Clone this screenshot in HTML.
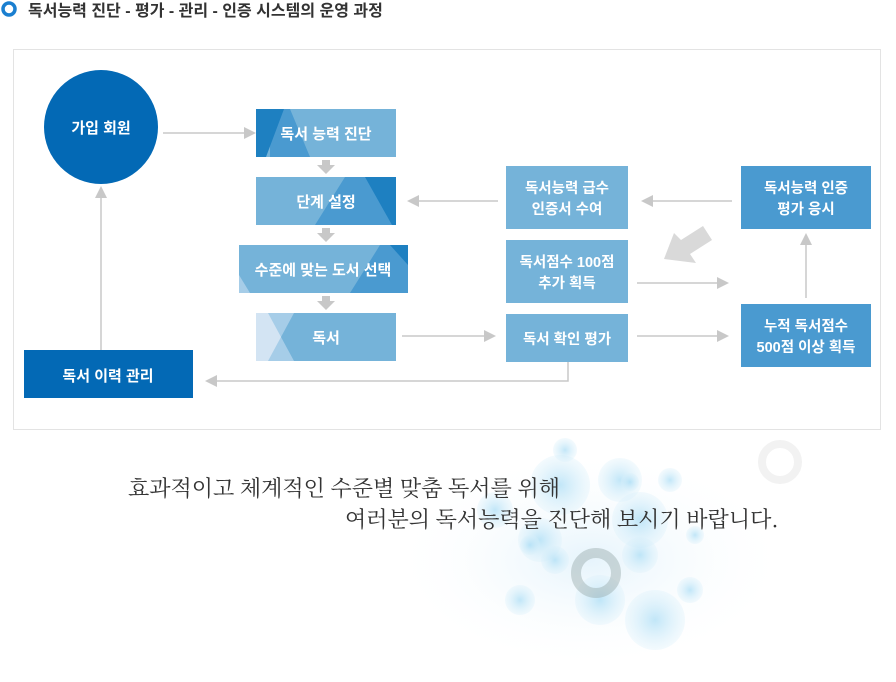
<!DOCTYPE html>
<html><head><meta charset="utf-8"><style>
html,body{margin:0;padding:0;background:#fff;}
body{width:896px;height:682px;overflow:hidden;position:relative;font-family:"Liberation Sans","Noto Sans CJK KR",sans-serif;}
svg{position:absolute;left:0;top:0;}
</style></head><body>
<svg width="896" height="682" viewBox="0 0 896 682" xmlns="http://www.w3.org/2000/svg" font-family="Liberation Sans, Noto Sans CJK KR, sans-serif">
<defs>
<radialGradient id="bub" cx="50%" cy="50%" r="50%"><stop offset="0" stop-color="#a8dcf5" stop-opacity="0.7"/><stop offset="1" stop-color="#d8effa" stop-opacity="0.3"/></radialGradient>
<radialGradient id="haze" cx="50%" cy="50%" r="50%"><stop offset="0" stop-color="#e6f4fc"/><stop offset="1" stop-color="#fff" stop-opacity="0"/></radialGradient>
<clipPath id="c1"><rect x="256" y="109" width="140" height="48"/></clipPath>
<clipPath id="c2"><rect x="256" y="177" width="140" height="48"/></clipPath>
<clipPath id="c3"><rect x="239" y="245" width="169" height="48"/></clipPath>
<clipPath id="c4"><rect x="256" y="313" width="140" height="48"/></clipPath>
</defs>
<circle cx="9" cy="9" r="6" fill="none" stroke="#1a7fd0" stroke-width="3.5"/>
<text x="28" y="16" font-size="16" fill="#333" font-weight="bold">독서능력 진단 - 평가 - 관리 - 인증 시스템의 운영 과정</text>
<rect x="13.5" y="49.5" width="867" height="380" fill="#fff" stroke="#e3e3e3"/>
<ellipse cx="590" cy="560" rx="200" ry="110" fill="url(#haze)"/>
<g fill="url(#bub)">
<circle cx="560" cy="485" r="30"/><circle cx="620" cy="480" r="22"/><circle cx="640" cy="520" r="28"/><circle cx="540" cy="540" r="22"/>
<circle cx="600" cy="600" r="25"/><circle cx="655" cy="620" r="30"/><circle cx="520" cy="600" r="15"/><circle cx="690" cy="590" r="13"/>
<circle cx="530" cy="545" r="10"/><circle cx="640" cy="555" r="18"/><circle cx="555" cy="560" r="14"/><circle cx="565" cy="450" r="12"/>
<circle cx="630" cy="482" r="9"/><circle cx="695" cy="535" r="9"/><circle cx="495" cy="510" r="18"/><circle cx="670" cy="480" r="12"/>
</g>
<circle cx="596" cy="573" r="20" fill="none" stroke="#9aa" stroke-opacity="0.45" stroke-width="10"/>
<circle cx="780" cy="462" r="18" fill="none" stroke="#f2f2f2" stroke-width="8"/>
<text x="128" y="496" font-size="22" fill="#333" font-family="Noto Serif CJK SC, serif">효과적이고 체계적인 수준별 맞춤 독서를 위해</text>
<text x="345" y="527" font-size="22" fill="#333" font-family="Noto Serif CJK SC, serif">여러분의 독서능력을 진단해 보시기 바랍니다.</text>
<g stroke="#c8c8c8" stroke-width="1.5" fill="none">
<line x1="163" y1="133" x2="245" y2="133"/>
<line x1="498" y1="201" x2="418" y2="201"/>
<line x1="732" y1="201" x2="652" y2="201"/>
<line x1="637" y1="283" x2="718" y2="283"/>
<line x1="637" y1="336" x2="718" y2="336"/>
<line x1="402" y1="336" x2="485" y2="336"/>
<line x1="806" y1="298" x2="806" y2="244"/>
<polyline points="568,362 568,381 217,381"/>
<line x1="101" y1="350" x2="101" y2="197"/>
</g>
<g fill="#c8c8c8">
<polygon points="256,133 244,127 244,139"/>
<polygon points="407,201 419,195 419,207"/>
<polygon points="641,201 653,195 653,207"/>
<polygon points="729,283 717,277 717,289"/>
<polygon points="729,336 717,330 717,342"/>
<polygon points="496,336 484,330 484,342"/>
<polygon points="806,233 800,245 812,245"/>
<polygon points="205,381 217,375 217,387"/>
<polygon points="101,186 95,198 107,198"/>
<polygon points="322,160 330,160 330,165 335,165 326,174 317,165 322,165"/>
<polygon points="322,228 330,228 330,233 335,233 326,242 317,233 322,233"/>
<polygon points="322,296 330,296 330,301 335,301 326,310 317,301 322,301"/>
</g>
<polygon points="664,259 674,233 681,240 703,226 712,240 690,254 696,263" fill="#d9d9d9"/>
<circle cx="101" cy="127" r="57" fill="#0369b5"/>
<text x="101" y="133" font-size="15" font-weight="bold" fill="#fff" text-anchor="middle">가입 회원</text>
<g clip-path="url(#c1)"><rect x="256" y="109" width="140" height="48" fill="#75b3d9"/>
<polygon points="270,109 290,109 310,157 270,157" fill="#4a9ad0"/><polygon points="256,109 284,109 266,157 256,157" fill="#1e80c1"/></g>
<g clip-path="url(#c2)"><rect x="256" y="177" width="140" height="48" fill="#75b3d9"/>
<polygon points="345,177 396,177 396,225 315,225" fill="#4a9ad0"/><polygon points="365,177 396,177 396,225 392,225" fill="#1e80c1"/></g>
<g clip-path="url(#c3)"><rect x="239" y="245" width="169" height="48" fill="#75b3d9"/>
<polygon points="239,275 250,293 239,293" fill="#a6cde8"/><polygon points="380,245 408,245 408,293 350,293" fill="#4a9ad0"/><polygon points="390,245 408,245 408,265" fill="#1e80c1"/></g>
<g clip-path="url(#c4)"><rect x="256" y="313" width="140" height="48" fill="#75b3d9"/>
<polygon points="256,313 294,313 281,337 294,361 256,361" fill="#a6cde8"/><polygon points="256,313 268,313 281,337 268,361 256,361" fill="#d3e4f3"/></g>
<g font-size="15" font-weight="bold" fill="#fff" text-anchor="middle">
<text x="326" y="139">독서 능력 진단</text>
<text x="326" y="207">단계 설정</text>
<text x="323" y="275">수준에 맞는 도서 선택</text>
<text x="326" y="343">독서</text>
</g>
<rect x="24" y="350" width="169" height="48" fill="#0369b5"/>
<text x="108" y="381" font-size="15" font-weight="bold" fill="#fff" text-anchor="middle">독서 이력 관리</text>
<rect x="506" y="166" width="122" height="63" fill="#75b3d9"/>
<rect x="506" y="240" width="122" height="63" fill="#75b3d9"/>
<rect x="506" y="314" width="122" height="48" fill="#75b3d9"/>
<rect x="741" y="166" width="130" height="63" fill="#4a9ad0"/>
<rect x="741" y="304" width="130" height="63" fill="#4a9ad0"/>
<g font-size="14.5" font-weight="bold" fill="#fff" text-anchor="middle">
<text x="567" y="193">독서능력 급수</text><text x="567" y="214">인증서 수여</text>
<text x="567" y="267">독서점수 100점</text><text x="567" y="288">추가 획득</text>
<text x="567" y="344">독서 확인 평가</text>
<text x="806" y="193">독서능력 인증</text><text x="806" y="214">평가 응시</text>
<text x="806" y="331">누적 독서점수</text><text x="806" y="352">500점 이상 획득</text>
</g>
</svg>
</body></html>
